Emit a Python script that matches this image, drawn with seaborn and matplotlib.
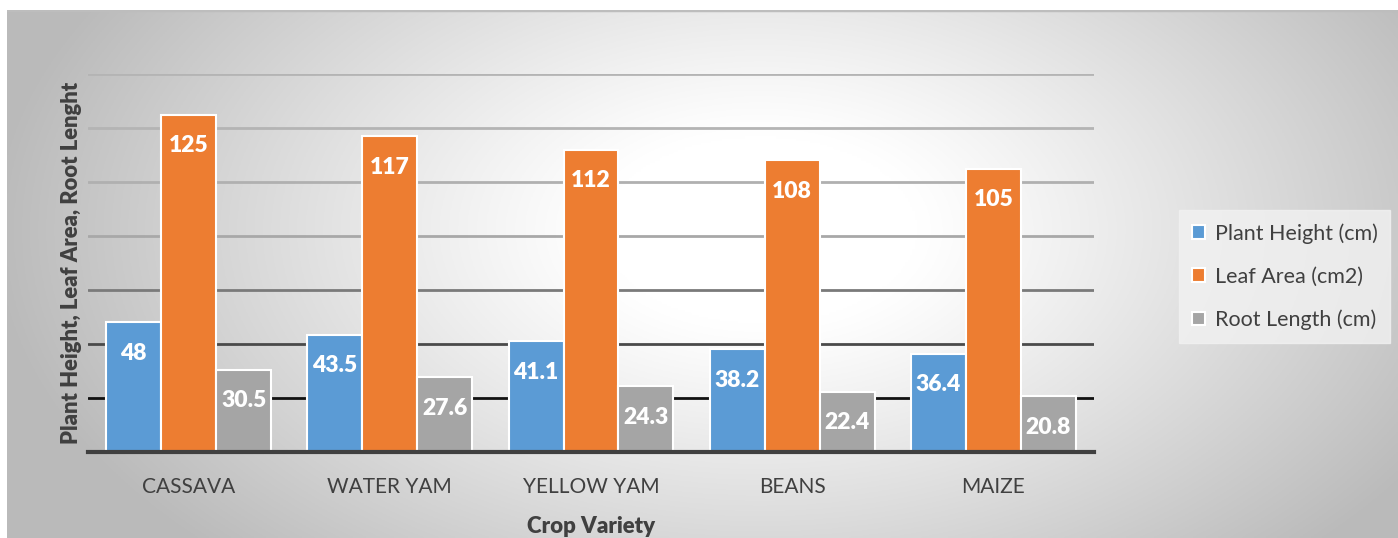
import numpy as np
import pandas as pd
import matplotlib
matplotlib.use("Agg")
import matplotlib.pyplot as plt
import seaborn as sns

# Data
crops = ["CASSAVA", "WATER YAM", "YELLOW YAM", "BEANS", "MAIZE"]
plant_height = [48, 43.5, 41.1, 38.2, 36.4]
leaf_area = [125, 117, 112, 108, 105]
root_length = [30.5, 27.6, 24.3, 22.4, 20.8]
series_names = ["Plant Height (cm)", "Leaf Area (cm2)", "Root Length (cm)"]
series_colors = ["#5b9bd5", "#ed7d31", "#a5a5a5"]
y_ticks = [0, 20, 40, 60, 80, 100, 120, 140]

df = pd.DataFrame({
    "crop": crops * 3,
    "series": [series_names[0]] * 5 + [series_names[1]] * 5 + [series_names[2]] * 5,
    "value": plant_height + leaf_area + root_length,
})

sns.set_theme(style="white")
plt.rcParams["font.family"] = ["Lato", "DejaVu Sans"]

W, H = 1398, 538
fig = plt.figure(figsize=(W / 100, H / 100), dpi=100)
fig.patch.set_facecolor("white")

# Radial gradient backdrop of the chart panel
bg = fig.add_axes([7 / W, 0, (W - 7) / W, (H - 10) / H])
bg.set_axis_off()
nx, ny = 600, 240
xs = np.linspace(7, W, nx)
ys = np.linspace(10, H, ny)
X, Y = np.meshgrid(xs, ys)
r = np.sqrt(((X - 760) / 720) ** 2 + ((Y - 230) / 430) ** 2)
shade = np.clip(1.0 - 0.27 * np.clip((r - 0.22) / 0.85, 0, 1) ** 1.1, 0, 1)
img = np.dstack([shade, shade, shade])
bg.imshow(img, extent=[0, 1, 0, 1], aspect="auto", origin="upper", zorder=0)
bg.set_xlim(0, 1)
bg.set_ylim(0, 1)
bg.axhline(1.0, color="#bdbdbd", lw=2.5)

ax = fig.add_axes([88 / W, (H - 452) / H, (1094 - 88) / W, (452 - 74) / H])
ax.patch.set_alpha(0)

sns.barplot(data=df, x="crop", y="value", hue="series", palette=series_colors,
            width=0.82, saturation=1, edgecolor="white", linewidth=1.5,
            ax=ax, legend=True, zorder=3)

ax.set_ylim(0, 140)
ax.set_xlim(-0.5, 4.5)
ax.set_yticks(y_ticks)
ax.set_yticklabels([])
ax.tick_params(axis="y", length=0)
ax.tick_params(axis="x", length=0, pad=18, labelsize=15, labelcolor="#404040")

# Horizontal gridlines, darkening toward the base
grid_colors = {20: "#111111", 40: "#4a4a4a", 60: "#7a7a7a", 80: "#a8a8a8",
               100: "#b0b0b0", 120: "#b4b4b4", 140: "#b4b4b4"}
for v, c in grid_colors.items():
    ax.axhline(v, color=c, lw=2, zorder=1)

for s in ["top", "right", "left"]:
    ax.spines[s].set_visible(False)
ax.spines["bottom"].set_color("#404040")
ax.spines["bottom"].set_linewidth(3)
ax.spines["bottom"].set_zorder(4)

for cont in ax.containers:
    labels = [f"{v:g}" for v in cont.datavalues]
    ax.bar_label(cont, labels=labels, label_type="edge", padding=-30,
                 color="white", fontsize=16.5, fontweight="heavy", zorder=5)

ax.set_xlabel("Crop Variety", fontsize=16, fontweight="heavy", color="#404040", labelpad=14)
ax.set_ylabel("Plant Height, Leaf Area, Root Lenght", fontsize=15.8, fontweight="heavy",
              color="#404040", labelpad=1)

leg = ax.legend(loc="upper left", bbox_to_anchor=(1179 / W, (H - 210) / H),
                bbox_transform=fig.transFigure, frameon=True, fontsize=15.5,
                handlelength=0.6, handleheight=0.6, handletextpad=0.45,
                labelspacing=1.07, borderpad=0.6, borderaxespad=0)
leg.get_frame().set_facecolor("#f2f2f2")
leg.get_frame().set_edgecolor("#f2f2f2")
leg.get_frame().set_boxstyle("square", pad=0)
for t in leg.get_texts():
    t.set_color("#404040")
for hnd in leg.legend_handles:
    hnd.set_edgecolor("white")

fig.savefig("out.png", dpi=100)
